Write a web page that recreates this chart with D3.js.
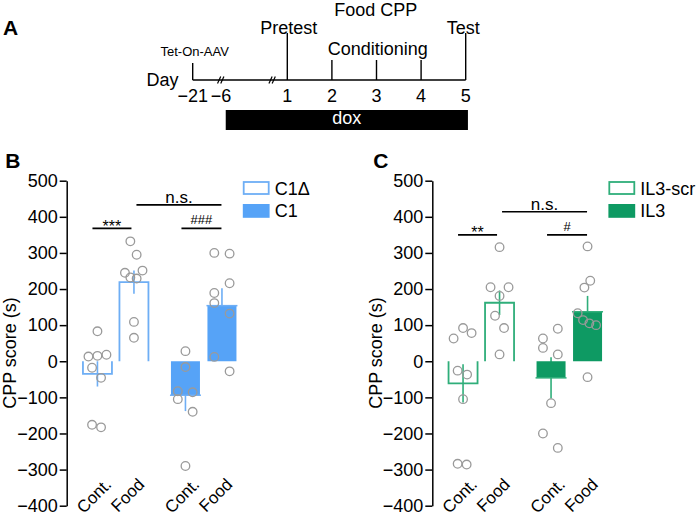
<!DOCTYPE html>
<html><head><meta charset="utf-8">
<script src="https://cdn.jsdelivr.net/npm/d3@7"></script>
<style>
body{margin:0;background:#fff}
svg{display:block}
text{font-family:"Liberation Sans",Arial,Helvetica,sans-serif;fill:#000}
</style>
</head><body>
<svg id="chart" width="700" height="516"></svg>
<script>
// ================= DATA =================
// Panel A: timeline
const timelineTicks = [-21, -6, 1, 2, 3, 4, 5];
const timelineTickLabels = ["−21", "−6", "1", "2", "3", "4", "5"];
const timelineMarkDays = [-21, 1, 2, 3, 4, 5];
const timelineMarkKinds = ["short", "tall", "mid", "mid", "mid", "tall"];
const timelineEventLabels = ["Tet-On-AAV", "Pretest", "Conditioning", "Test", "Food CPP"];
const timelineEventDays = [-21, 1, 3, 5, 3];
const timelineBreakDays = [-6.15, -0.6];
const doxPeriod = [-5.5, 5.05];
const doxLabel = "dox";

// Panels B and C
const conditions = ["Cont.", "Food"];
const yTicks = [-400, -300, -200, -100, 0, 100, 200, 300, 400, 500];
const yLabel = "CPP score (s)";

const groupsB = ["C1Δ", "C1"];
const meansB = [[-35, 219], [-94, 154]];
const semsB = [[35, 32], [44, 48]];
const dotsB = [
  [[83, 13, 15, 18, -18, -46, -176, -183], [332, 295, 245, 251, 232, 229, 109, 65]],
  [[28, -16, -83, -86, -105, -140, -290], [300, 298, 216, 189, 161, 132, 12, -28]]
];
const sigLabelsB = ["***", "###", "n.s."];
const sigLevelsB = [368, 368, 433];

const groupsC = ["IL3-scr", "IL3"];
const meansC = [[-61, 162], [-46, 137]];
const semsC = [[53, 34], [57, 44]];
const dotsC = [
  [[63, 92, 78, -26, -37, -105, -284, -286], [316, 205, 205, 181, 126, 92, 19]],
  [[90, 63, 37, 19, -116, -200, -240], [318, 223, 204, 133, 114, 105, 100, -44]]
];
const sigLabelsC = ["**", "#", "n.s."];
const sigLevelsC = [350, 350, 414];

// beeswarm slot of each dot (layout, in half-diameter units)
const slotsB = [
  [[0, -2, 0, 2, -1.2, 0.8, -1.2, 0.8], [-0.8, 0.6, -2, 1.9, -0.8, 0.6, 0, 0]],
  [[0, 0, -1.7, 1.6, -1.7, 1.6, 0], [-1.7, 1.7, 1.7, -1.7, -1.7, 1.7, -1.7, 1.7]]
];
const slotsC = [
  [[-2.1, 0, 1.9, -1.2, 0.9, 0, -1.2, 0.8], [0, -2, 2, 0, -1, 1, 0]],
  [[1.5, -1.8, -1.8, 1.5, 0, -1.8, 1.5], [0, 0.6, -0.7, -2.2, -1, 0.4, 1.9, 0]]
];

// ================= STYLE =================
const FONT = 18;
const blueLight = "#6eaef5", blueFill = "#56a3f7";
const greenLight = "#2fae7a", greenFill = "#0e9a63";
const dotStroke = "#9a9a9a";

const svg = d3.select("#chart");

// ================= PANEL A =================
(function(){
  const g = svg.append("g");
  const x = d3.scaleLinear().domain([-21, -6, 1, 5]).range([192.7, 221, 287.3, 465.7]);
  const lineY = 80;
  const markLen = {short: 17, mid: 20, tall: 47};

  g.append("text").text("A").attr("x", 3).attr("y", 34.5)
    .attr("font-size", 21).attr("font-weight", "bold");

  g.append("line").attr("x1", x(-21)).attr("x2", x(5)).attr("y1", lineY).attr("y2", lineY)
    .attr("stroke", "#000").attr("stroke-width", 1.4);

  g.selectAll(".mark").data(timelineMarkDays).join("line")
    .attr("x1", d => x(d)).attr("x2", d => x(d))
    .attr("y1", lineY).attr("y2", (d, i) => lineY - markLen[timelineMarkKinds[i]])
    .attr("stroke", "#000").attr("stroke-width", 1.4);

  timelineBreakDays.forEach(d => {
    [-1.6, 1.6].forEach(o => {
      g.append("line").attr("x1", x(d) + o - 1.6).attr("x2", x(d) + o + 1.6)
        .attr("y1", lineY + 3.5).attr("y2", lineY - 3.5)
        .attr("stroke", "#000").attr("stroke-width", 1.2);
    });
  });

  g.selectAll(".tl").data(timelineTicks).join("text")
    .attr("x", d => x(d)).attr("y", 101.5).attr("text-anchor", "middle")
    .attr("font-size", FONT).text((d, i) => timelineTickLabels[i]);

  g.append("text").text("Day").attr("x", 146.5).attr("y", 86).attr("font-size", FONT);

  const evY = [56, 34.3, 55, 34.3, 16];
  const evSize = [13, FONT, FONT, FONT, FONT];
  const evDx = [2, 1.4, 1.3, -2.5, -0.7];
  timelineEventLabels.forEach((t, i) => {
    g.append("text").text(t).attr("x", x(timelineEventDays[i]) + evDx[i]).attr("y", evY[i])
      .attr("text-anchor", "middle").attr("font-size", evSize[i]);
  });

  g.append("rect").attr("x", x(doxPeriod[0])).attr("width", x(doxPeriod[1]) - x(doxPeriod[0]))
    .attr("y", 110).attr("height", 20).attr("fill", "#000");
  g.append("text").text(doxLabel).attr("x", (x(doxPeriod[0]) + x(doxPeriod[1])) / 2)
    .attr("y", 123.5).attr("text-anchor", "middle").attr("font-size", FONT).style("fill", "#fff");
})();

// ================= PANELS B & C =================
const y = d3.scaleLinear().domain([-400, 500]).range([505.7, 180.7]);

function drawPanel(opt) {
  const g = svg.append("g").attr("transform", `translate(${opt.axisX},0)`);
  const x0 = d3.scalePoint().domain(opt.groups).range([49, 137]);
  const x1 = d3.scalePoint().domain(conditions).range([-18.25, 18.25]);
  const cx = (gi, ci) => x0(opt.groups[gi]) + x1(conditions[ci]);
  const barW = 29;
  const slotUnit = 4.5;

  g.append("text").text(opt.letter).attr("x", opt.letterX).attr("y", 168.3)
    .attr("font-size", 21).attr("font-weight", "bold");

  // error bars
  opt.groups.forEach((grp, gi) => {
    const light = opt.colors[0];
    conditions.forEach((c, ci) => {
      const m = opt.means[gi][ci], s = opt.sems[gi][ci];
      g.append("line").attr("x1", cx(gi, ci)).attr("x2", cx(gi, ci))
        .attr("y1", y(m - s)).attr("y2", y(m + s))
        .attr("stroke", light).attr("stroke-width", 1.6);
    });
  });

  // bars
  opt.groups.forEach((grp, gi) => {
    conditions.forEach((c, ci) => {
      const m = opt.means[gi][ci];
      const xa = cx(gi, ci) - barW / 2, xb = cx(gi, ci) + barW / 2;
      if (gi === 0) {
        g.append("path")
          .attr("d", `M${xa},${y(0)}V${y(m)}H${xb}V${y(0)}`)
          .attr("fill", "none").attr("stroke", opt.colors[0]).attr("stroke-width", 1.8);
      } else {
        g.append("rect").attr("x", xa).attr("width", barW)
          .attr("y", Math.min(y(0), y(m))).attr("height", Math.abs(y(m) - y(0)))
          .attr("fill", opt.colors[1]);
        g.append("line").attr("x1", xa - 1).attr("x2", xb + 1).attr("y1", y(m)).attr("y2", y(m))
          .attr("stroke", opt.colors[0]).attr("stroke-width", 1.5);
      }
    });
  });

  // dots
  opt.groups.forEach((grp, gi) => {
    conditions.forEach((c, ci) => {
      g.selectAll(null).data(opt.dots[gi][ci]).join("circle")
        .attr("cx", (d, k) => cx(gi, ci) + opt.slots[gi][ci][k] * slotUnit)
        .attr("cy", d => y(d)).attr("r", 4.3)
        .attr("fill", "none").attr("stroke", dotStroke).attr("stroke-width", 1.3);
    });
  });

  // significance
  const sigLines = [
    [cx(0, 0) - 5, cx(0, 1) - 2.5],
    [cx(1, 0) - 4, cx(1, 1) - 0.5],
    [cx(0, 1) + 2.5, cx(1, 1) - 0.5]
  ];
  sigLines.forEach((ext, i) => {
    const ly = y(opt.sigLevels[i]);
    g.append("line").attr("x1", ext[0]).attr("x2", ext[1]).attr("y1", ly).attr("y2", ly)
      .attr("stroke", "#000").attr("stroke-width", 1.6);
    const lab = opt.sigLabels[i];
    const isStar = lab.includes("*"), isHash = lab.includes("#");
    g.append("text").text(lab).attr("x", (ext[0] + ext[1]) / 2)
      .attr("y", isStar ? ly + 3.5 : isHash ? ly - 4 : ly - 1.8)
      .attr("text-anchor", "middle")
      .attr("font-size", isStar ? 16 : isHash ? 13 : 17);
  });

  // legend
  const lx = 177;
  g.append("rect").attr("x", lx).attr("y", 182).attr("width", 25).attr("height", 12)
    .attr("fill", "none").attr("stroke", opt.colors[0]).attr("stroke-width", 1.8);
  g.append("rect").attr("x", lx - 0.9).attr("y", 204).attr("width", 26.8).attr("height", 13.8)
    .attr("fill", opt.colors[1]);
  g.append("text").text(opt.groups[0]).attr("x", lx + 31).attr("y", 194.5).attr("font-size", FONT);
  g.append("text").text(opt.groups[1]).attr("x", lx + 31).attr("y", 217).attr("font-size", FONT);

  // x labels
  opt.groups.forEach((grp, gi) => {
    conditions.forEach((c, ci) => {
      g.append("text").text(c)
        .attr("transform", `translate(${cx(gi, ci) + (ci === 0 ? 15 : 11.5)},485.5) rotate(-45)`)
        .attr("text-anchor", "end").attr("font-size", 17);
    });
  });

  // y axis
  const ax = g.append("g").call(d3.axisLeft(y).tickValues(yTicks).tickSize(7).tickPadding(2).tickSizeOuter(0));
  ax.select(".domain").attr("stroke", "#000").attr("stroke-width", 1.5);
  ax.selectAll(".tick line").attr("stroke", "#000").attr("stroke-width", 1.5);
  ax.selectAll(".tick text").attr("font-size", FONT)
    .attr("font-family", '"Liberation Sans",Arial,sans-serif').attr("fill", "#000");

  g.append("text").text(yLabel)
    .attr("transform", `translate(-50.5,353) rotate(-90)`)
    .attr("text-anchor", "middle").attr("font-size", FONT);
}

drawPanel({axisX: 66.7, letter: "B", letterX: -61.5, groups: groupsB, means: meansB, sems: semsB,
  dots: dotsB, slots: slotsB, sigLabels: sigLabelsB, sigLevels: sigLevelsB, colors: [blueLight, blueFill]});
drawPanel({axisX: 432.3, letter: "C", letterX: -59, groups: groupsC, means: meansC, sems: semsC,
  dots: dotsC, slots: slotsC, sigLabels: sigLabelsC, sigLevels: sigLevelsC, colors: [greenLight, greenFill]});
</script>
</body></html>
